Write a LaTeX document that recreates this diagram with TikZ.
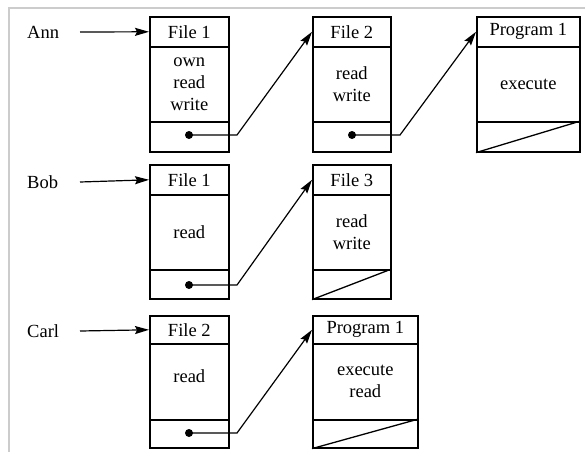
\documentclass[tikz,border=0pt]{standalone}
\usepackage{fontspec}
\setmainfont{Liberation Serif}
\usetikzlibrary{arrows.meta}
\begin{document}
\begin{tikzpicture}[x=1pt,y=-1pt,
  cell/.style={draw, line width=1.6pt, anchor=north west, inner sep=0pt,
    align=center, font=\fontsize{18.5}{22}\selectfont},
  hdr/.style={cell, minimum height=30pt},
  body/.style={cell, minimum height=75pt},
  foot/.style={cell, minimum height=30pt},
  who/.style={anchor=west, inner sep=0pt, font=\fontsize{18.5}{22}\selectfont},
  dot/.style={circle, fill=black, inner sep=0pt, minimum size=8pt},
  ptr/.style={line width=1.2pt, -{Stealth[length=14pt,width=8pt,inset=2pt]}},
  slash/.style={line width=1.3pt}]
\useasboundingbox (0,0) rectangle (585,452);
% page frame (top and left rules)
\draw[line width=1.5pt, color=black!20] (9,452) -- (9,8) -- (585,8);

% ---- Ann ----
\node[who] (ann) at (27,32) {Ann};
\coordinate (annst) at (80,32);
\node[hdr,  minimum width=79pt] (a1h) at (149,16) {File 1};
\node[body, minimum width=79pt] (a1b) at (149,46) {own\\read\\write};
\node[foot, minimum width=79pt] (a1f) at (149,121) {};
\node[hdr,  minimum width=78pt] (a2h) at (312,16) {File 2};
\node[body, minimum width=78pt] (a2b) at (312,46) {read\\write};
\node[foot, minimum width=78pt] (a2f) at (312,121) {};
\node[hdr,  minimum width=103pt] (a3h) at (476,16) {Program 1};
\node[body, minimum width=103pt] (a3b) at (476,46) {execute};
\node[foot, minimum width=103pt] (a3f) at (476,121) {};
\draw[slash] (a3f.south west) -- (a3f.north east);
\node[dot] (ad1) at (189,135) {};
\node[dot] (ad2) at (352,135) {};
\draw[ptr] (annst) -- (a1h.west);
\draw[ptr] (ad1.center) -- ++(48,0) -- (a2h.west);
\draw[ptr] (ad2.center) -- ++(48,0) -- (a3h.west);

% ---- Bob ----
\node[who] (bob) at (27,182) {Bob};
\coordinate (bobst) at (80,182);
\node[hdr,  minimum width=79pt] (b1h) at (149,164) {File 1};
\node[body, minimum width=79pt] (b1b) at (149,194) {read};
\node[foot, minimum width=79pt, minimum height=29pt] (b1f) at (149,269) {};
\node[hdr,  minimum width=78pt] (b2h) at (312,164) {File 3};
\node[body, minimum width=78pt] (b2b) at (312,194) {read\\write};
\node[foot, minimum width=78pt, minimum height=29pt] (b2f) at (312,269) {};
\draw[slash] (b2f.south west) -- (b2f.north east);
\node[dot] (bd1) at (189,285) {};
\draw[ptr] (bobst) -- (b1h.west);
\draw[ptr] (bd1.center) -- ++(48,0) -- (b2h.west);

% ---- Carl ----
\node[who] (carl) at (27,331) {Carl};
\coordinate (carlst) at (80,331);
\node[hdr,  minimum width=79pt, minimum height=28pt] (c1h) at (149,315) {File 2};
\node[body, minimum width=79pt, minimum height=76pt] (c1b) at (149,343) {read\\[-10pt]\mbox{}};
\node[foot, minimum width=79pt, minimum height=28pt] (c1f) at (149,419) {};
\node[hdr,  minimum width=105pt, minimum height=28pt] (c2h) at (312,315) {Program 1};
\node[body, minimum width=105pt, minimum height=76pt] (c2b) at (312,343) {execute\\read};
\node[foot, minimum width=105pt, minimum height=28pt] (c2f) at (312,419) {};
\draw[slash] (c2f.south west) -- (c2f.north east);
\node[dot] (cd1) at (189,433) {};
\draw[ptr] (carlst) -- (c1h.west);
\draw[ptr] (cd1.center) -- ++(48,0) -- (c2h.west);
\end{tikzpicture}
\end{document}
